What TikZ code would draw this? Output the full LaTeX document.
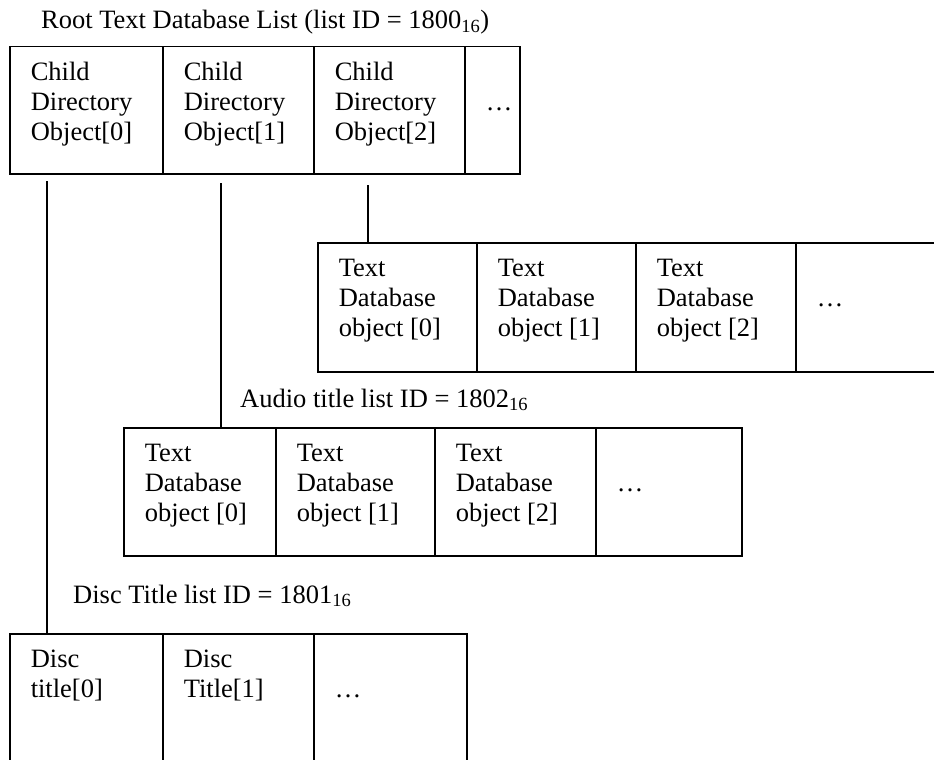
\documentclass[tikz,border=0pt]{standalone}
\usepackage{fontspec}
\setmainfont{Liberation Serif}

% body of one table cell: text starts 21pt in, first baseline 34pt down
\newcommand\cellbody[3]{\parbox[c][#2][t]{#1}{\raggedright\leftskip=21pt\relax\rule{0pt}{34pt}#3}}

\tikzset{
  rule/.style={line width=1.5pt, black},
  cell/.style={draw, rule, inner sep=0pt, anchor=north west,
               font=\fontsize{26.5}{30}\selectfont},
  caption/.style={inner sep=0pt, anchor=base west,
                  font=\fontsize{26.5}{30}\selectfont},
}

\begin{document}
\begin{tikzpicture}[x=1pt, y=-1pt]
\clip (0,0) rectangle (934,760);
\fill[white] (0,0) rectangle (934,760);

% root list
\node[caption] (roottitle) at (41,29) {Root Text Database List (list ID = 1800\textsubscript{16})};
\node[cell] (root0) at (9,46)   {\cellbody{153pt}{127pt}{Child\\Directory\\Object[0]}};
\node[cell] (root1) at (162,46) {\cellbody{151pt}{127pt}{Child\\Directory\\Object[1]}};
\node[cell] (root2) at (313,46) {\cellbody{151pt}{127pt}{Child\\Directory\\Object[2]}};
\node[cell] (root3) at (464,46) {\cellbody{55pt}{127pt}{\\…}};

% text database list hanging from object[2]
\node[cell] (tdb0) at (317,242) {\cellbody{159pt}{129pt}{Text\\Database\\object [0]}};
\node[cell] (tdb1) at (476,242) {\cellbody{159pt}{129pt}{Text\\Database\\object [1]}};
\node[cell] (tdb2) at (635,242) {\cellbody{160pt}{129pt}{Text\\Database\\object [2]}};
\node[cell] (tdb3) at (795,242) {\cellbody{160pt}{129pt}{\\…}};

% audio title list
\node[caption] (audiotitle) at (240,407) {Audio title list ID = 1802\textsubscript{16}};
\node[cell] (aud0) at (123,427) {\cellbody{152pt}{128pt}{Text\\Database\\object [0]}};
\node[cell] (aud1) at (275,427) {\cellbody{159pt}{128pt}{Text\\Database\\object [1]}};
\node[cell] (aud2) at (434,427) {\cellbody{161pt}{128pt}{Text\\Database\\object [2]}};
\node[cell] (aud3) at (595,427) {\cellbody{146pt}{128pt}{\\…}};

% disc title list
\node[caption] (disctitle) at (73,603) {Disc Title list ID = 1801\textsubscript{16}};
\node[cell] (disc0) at (9,633)   {\cellbody{153pt}{160pt}{Disc\\title[0]}};
\node[cell] (disc1) at (162,633) {\cellbody{151pt}{160pt}{Disc\\Title[1]}};
\node[cell] (disc2) at (313,633) {\cellbody{153pt}{160pt}{\\…}};

% connectors
\coordinate (c0) at (47,181);
\coordinate (c1) at (221,183);
\coordinate (c2) at (368,185);
\draw[rule] (c0) -- (c0 |- disc0.north);
\draw[rule] (c1) -- (c1 |- aud0.north);
\draw[rule] (c2) -- (c2 |- tdb0.north);
\end{tikzpicture}
\end{document}
